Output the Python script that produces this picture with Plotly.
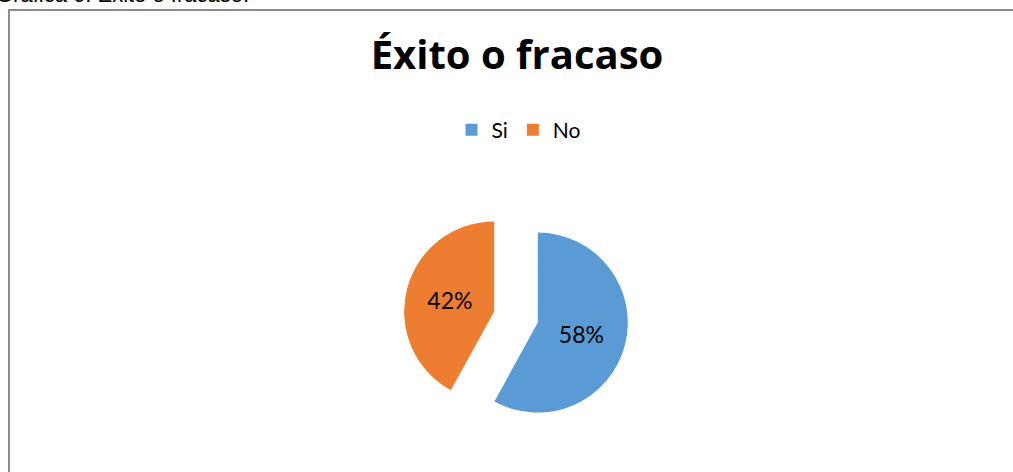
import plotly.graph_objects as go

labels = ["Si", "No"]
values = [58, 42]
colors = ["#5B9BD5", "#ED7D31"]
pulls = [0.25, 0.25]

W, H = 1013, 472

def px_x(x):
    return x / W

def px_y(y):
    return 1 - y / H

fig = go.Figure(
    go.Pie(
        labels=labels,
        values=values,
        marker=dict(colors=colors, line=dict(width=0)),
        pull=pulls,
        sort=False,
        direction="clockwise",
        rotation=0,
        textinfo="percent",
        texttemplate="%{percent:.0%}",
        textposition="inside",
        insidetextorientation="horizontal",
        textfont=dict(family="Lato", size=23, color="#000000"),
        domain=dict(x=[px_x(403.5), px_x(628.5)], y=[px_y(429.5), px_y(204.5)]),
        hoverinfo="label+percent",
    )
)

fig.update_layout(
    width=W,
    height=H,
    margin=dict(l=0, r=0, t=0, b=0),
    paper_bgcolor="#ffffff",
    plot_bgcolor="#ffffff",
    title=dict(
        text="<b>Éxito o fracaso</b>",
        font=dict(family="Open Sans", size=40, color="#000000"),
        x=517 / W,
        xanchor="center",
        xref="paper",
        yref="container",
        y=px_y(55),
        yanchor="middle",
    ),
    legend=dict(
        orientation="h",
        x=px_x(519),
        xanchor="center",
        y=px_y(130),
        yanchor="middle",
        font=dict(family="Lato", size=21, color="#000000"),
        bgcolor="rgba(0,0,0,0)",
    ),
    shapes=[
        dict(type="line", xref="paper", yref="paper",
             x0=px_x(8), x1=1.0, y0=px_y(10), y1=px_y(10),
             line=dict(color="#8c8c8c", width=2)),
        dict(type="line", xref="paper", yref="paper",
             x0=px_x(9), x1=px_x(9), y0=px_y(10), y1=0,
             line=dict(color="#8c8c8c", width=2)),
    ],
    annotations=[
        dict(
            text="Gráfica 6: Éxito o fracaso.",
            xref="paper", yref="paper",
            x=px_x(250), xanchor="right",
            y=px_y(8), yanchor="bottom",
            showarrow=False,
            font=dict(family="Liberation Sans", size=22, color="#000000"),
            borderpad=0,
        )
    ],
)

fig.write_html(
    "out.html",
    config={"displayModeBar": False},
    post_script="document.body.style.margin='0';document.body.style.overflow='hidden';",
)
